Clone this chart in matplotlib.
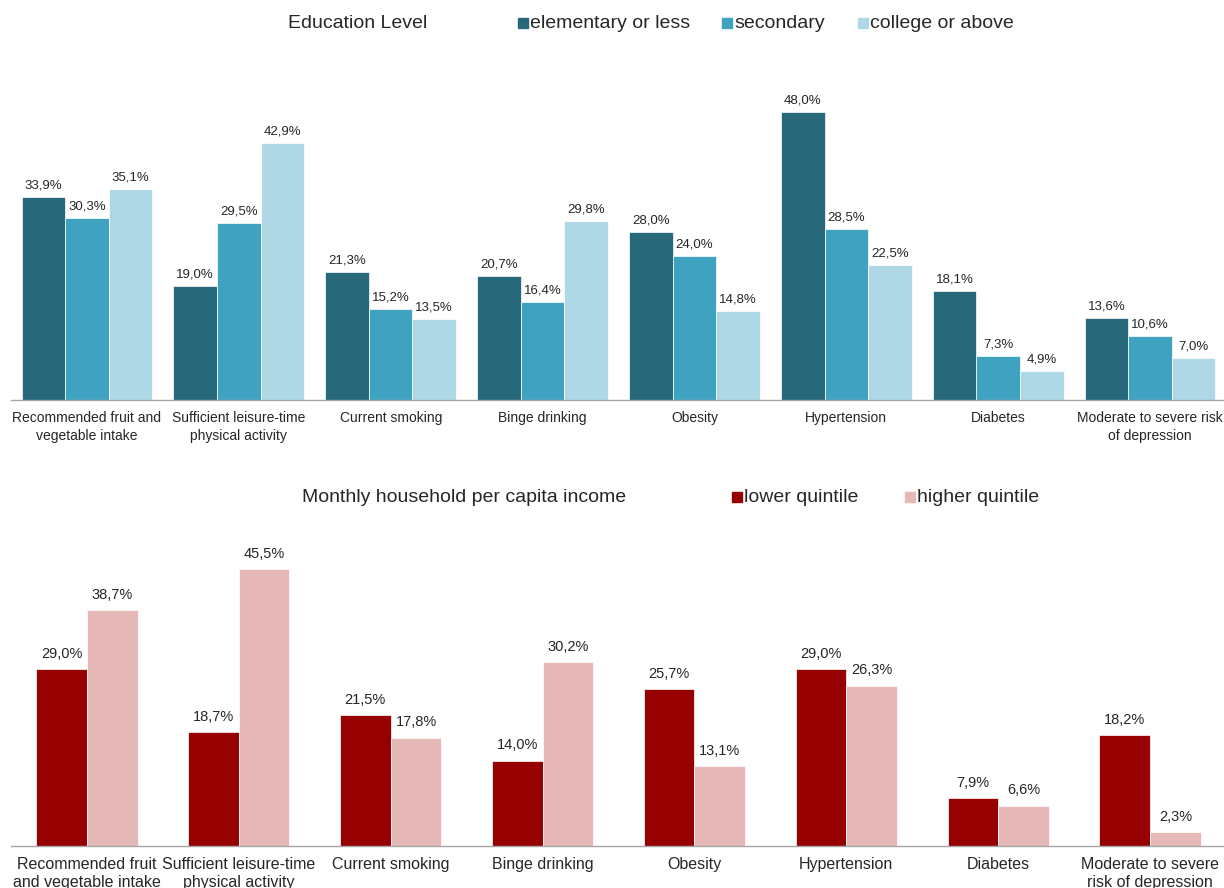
import matplotlib.pyplot as plt
import numpy as np
from matplotlib.patches import Rectangle

plt.rcParams['font.family'] = ['Liberation Sans', 'DejaVu Sans']

# Education level panel
edu_cats = ["Recommended fruit and\nvegetable intake",
            "Sufficient leisure-time\nphysical activity",
            "Current smoking", "Binge drinking", "Obesity", "Hypertension",
            "Diabetes", "Moderate to severe risk\nof depression"]
edu_groups = ["elementary or less", "secondary", "college or above"]
elementary = [33.9, 19.0, 21.3, 20.7, 28.0, 48.0, 18.1, 13.6]
secondary = [30.3, 29.5, 15.2, 16.4, 24.0, 28.5, 7.3, 10.6]
college = [35.1, 42.9, 13.5, 29.8, 14.8, 22.5, 4.9, 7.0]
edu_colors = ['#27697B', '#3EA2C0', '#AED8E6']

# Income panel
inc_cats = ["Recommended fruit\nand vegetable intake",
            "Sufficient leisure-time\nphysical activity",
            "Current smoking", "Binge drinking", "Obesity", "Hypertension",
            "Diabetes", "Moderate to severe\nrisk of depression"]
inc_groups = ["lower quintile", "higher quintile"]
lower = [29.0, 18.7, 21.5, 14.0, 25.7, 29.0, 7.9, 18.2]
higher = [38.7, 45.5, 17.8, 30.2, 13.1, 26.3, 6.6, 2.3]
inc_colors = ['#960000', '#E6B8B7']

W, H = 1224, 888
fig = plt.figure(figsize=(W / 100, H / 100), dpi=100)
txt = '#262626'


def pct(v):
    return f"{v:.1f}%".replace('.', ',')


def setup(ax, cats, ymax, fs, pad, lsp):
    ax.set_xlim(-0.5, len(cats) - 0.5)
    ax.set_ylim(0, ymax)
    for s in ['top', 'right', 'left']:
        ax.spines[s].set_visible(False)
    ax.spines['bottom'].set_color('#A6A6A6')
    ax.spines['bottom'].set_linewidth(1.0)
    ax.set_yticks([])
    ax.set_xticks(np.arange(len(cats)))
    ax.set_xticklabels(cats, fontsize=fs, color=txt, linespacing=lsp)
    ax.tick_params(axis='x', length=0, pad=pad)


def legend_row(title, title_x, y, labels, colors, xs, fs=14):
    yf = 1 - y / H
    fig.text(title_x / W, yf, title, fontsize=fs, color=txt, ha='left', va='center')
    for lab, c, x in zip(labels, colors, xs):
        fig.patches.append(Rectangle((x / W, (H - y - 5) / H), 10 / W, 10 / H,
                                     transform=fig.transFigure, color=c, figure=fig))
        fig.text((x + 12) / W, yf, lab, fontsize=fs, color=txt, ha='left', va='center')


# top panel
ax1 = fig.add_axes([11 / W, (H - 400) / H, 1215 / W, 340 / H])
x = np.arange(len(edu_cats))
bw = 0.287
for k, (vals, c) in enumerate(zip([elementary, secondary, college], edu_colors)):
    bars = ax1.bar(x + (k - 1) * bw, vals, bw, color=c, edgecolor='white',
                   linewidth=0.5, label=edu_groups[k])
    ax1.bar_label(bars, labels=[pct(v) for v in vals], padding=4, fontsize=9.5, color=txt)
setup(ax1, edu_cats, 340 / 6.0, 10, 8, 1.35)
legend_row("Education Level", 288, 23, edu_groups, edu_colors, [518, 722, 858])

# bottom panel
ax2 = fig.add_axes([11 / W, (H - 846) / H, 1215 / W, 316 / H])
bw2 = 0.3335
for k, (vals, c) in enumerate(zip([lower, higher], inc_colors)):
    bars = ax2.bar(x + (k - 0.5) * bw2, vals, bw2, color=c, edgecolor='white',
                   linewidth=0.5, label=inc_groups[k])
    ax2.bar_label(bars, labels=[pct(v) for v in vals], padding=6, fontsize=10.5, color=txt)
setup(ax2, inc_cats, 316 / 6.09, 11.5, 8, 1.2)
legend_row("Monthly household per capita income", 302, 497, inc_groups, inc_colors, [732, 905])

fig.savefig('out.png', dpi=100, facecolor='white')
